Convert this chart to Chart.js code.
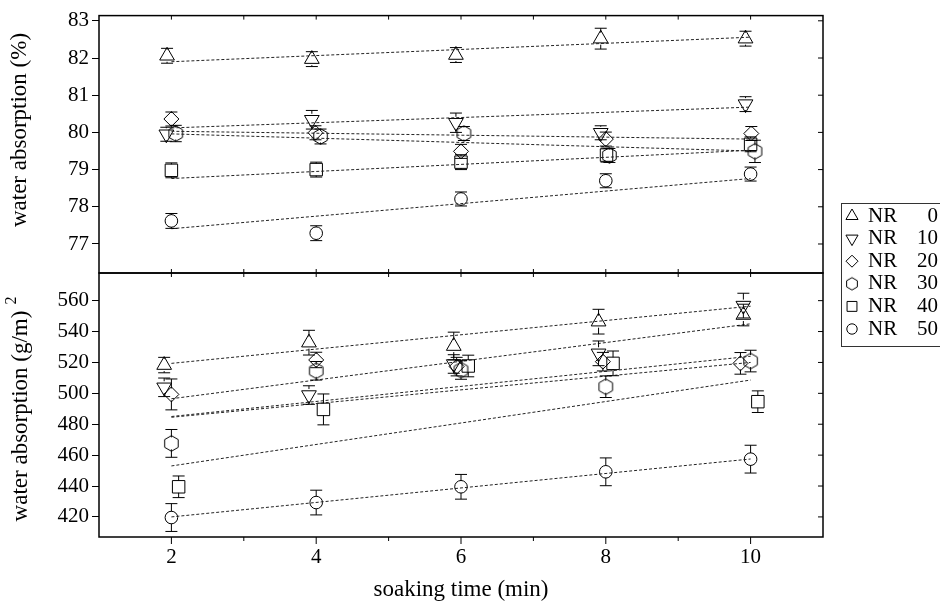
<!DOCTYPE html>
<html>
<head>
<meta charset="utf-8">
<title>water absorption vs soaking time</title>
<script src="https://cdn.jsdelivr.net/npm/chart.js@4.4.1/dist/chart.umd.min.js"></script>
<style>
  html, body { margin: 0; padding: 0; background: #fff; }
  #wrap { position: relative; width: 940px; height: 601px; }
  #wrap canvas { position: absolute; left: 0; top: 0; }
</style>
</head>
<body>
<div id="wrap">
  <canvas id="pctChart" width="940" height="601"></canvas>
  <canvas id="gsmChart" width="940" height="601"></canvas>
</div>
<script>
// NR content of each series
const nrLevels = [0, 10, 20, 30, 40, 50];

// upper panel: water absorption (%)
// soaking time of every point (the plot shifts some series sideways a little)
const pctTime = [
  [1.94, 3.94, 5.93, 7.93, 9.93],
  [1.93, 3.94, 5.93, 7.93, 9.93],
  [2.00, 3.99, 6.00, 8.00, 10.01],
  [2.06, 4.06, 6.04, 8.05, 10.06],
  [2.00, 4.00, 6.00, 8.01, 10.00],
  [2.00, 4.00, 6.00, 8.00, 10.00]
];
const pctValue = [
  [82.06, 81.97, 82.08, 82.52, 82.52],
  [79.95, 80.34, 80.26, 79.99, 80.76],
  [80.36, 79.99, 79.49, 79.82, 79.97],
  [79.97, 79.89, 79.97, 79.38, 79.49],
  [78.98, 79.00, 79.20, 79.39, 79.68],
  [77.62, 77.29, 78.21, 78.70, 78.88]
];
const pctError = [
  [0.20, 0.20, 0.20, 0.28, 0.20],
  [0.15, 0.25, 0.26, 0.15, 0.20],
  [0.10, 0.10, 0.10, 0.10, 0.10],
  [0.22, 0.20, 0.18, 0.10, 0.30],
  [0.20, 0.20, 0.20, 0.15, 0.20],
  [0.20, 0.20, 0.10, 0.10, 0.10]
];
// dashed fit lines: value at 2 min and at 10 min
const pctFitStart = [81.90, 80.12, 80.03, 79.96, 78.76, 77.41];
const pctFitEnd = [82.56, 80.68, 79.82, 79.50, 79.52, 78.76];

// lower panel: water absorption (g/m2)
const gsmTime = [
  [1.90, 3.90, 5.90, 7.90, 9.90],
  [1.90, 3.90, 5.90, 7.90, 9.90],
  [2.00, 4.00, 5.94, 7.96, 9.86],
  [2.00, 4.00, 6.00, 8.00, 10.00],
  [2.10, 4.10, 6.10, 8.10, 10.10],
  [2.00, 4.00, 6.00, 8.00, 10.00]
];
const gsmValue = [
  [518.3, 532.8, 530.6, 546.4, 550.7],
  [503.9, 498.9, 519.0, 525.9, 556.8],
  [499.3, 521.6, 517.3, 520.5, 519.4],
  [467.6, 514.6, 515.1, 504.3, 520.9],
  [439.5, 489.6, 517.7, 519.4, 494.6],
  [419.6, 429.3, 439.5, 449.2, 457.4]
];
const gsmError = [
  [5, 8, 9, 8, 7],
  [6, 6, 6, 8, 8],
  [10, 5, 6, 6, 7],
  [9, 6, 6, 7, 7],
  [7, 10, 7, 8, 7],
  [9, 8, 8, 9, 9]
];
const gsmFitStart = [519.4, 496.5, 485.0, 484.5, 453.0, 420.0];
const gsmFitEnd = [556.4, 545.0, 524.0, 520.0, 508.6, 457.5];

const fitTime = [2, 10];
const timeTicks = [2, 4, 6, 8, 10];
const pctTicks = [77, 78, 79, 80, 81, 82, 83];
const gsmTicks = [420, 440, 460, 480, 500, 520, 540, 560];

const serif = "'Liberation Serif', 'Times New Roman', serif";
Chart.defaults.font.family = serif;
Chart.defaults.color = '#000';

// hexagon marker (no built-in point style for it)
function hexagon(r) {
  const c = document.createElement('canvas');
  const s = Math.ceil(r * 2 + 3);
  c.width = s; c.height = s;
  const g = c.getContext('2d');
  g.strokeStyle = '#000';
  g.lineWidth = 1;
  g.beginPath();
  for (let k = 0; k < 6; k++) {
    const a = -Math.PI / 2 + k * Math.PI / 3;
    const px = s / 2 + r * Math.cos(a), py = s / 2 + r * Math.sin(a);
    if (k === 0) g.moveTo(px, py); else g.lineTo(px, py);
  }
  g.closePath();
  g.stroke();
  return c;
}

const shapes = ['triangle', 'triangle', 'rectRot', hexagon(7.8), 'rect', 'circle'];
const legendShapes = ['triangle', 'triangle', 'rectRot', hexagon(6.2), 'rect', 'circle'];
const turns = [0, 180, 0, 0, 0, 0];
const sizes = [8.5, 8.5, 7.5, 8, 8.8, 6.3];
const legendSizes = [7, 7, 6, 6, 7, 5.2];

function panelDatasets(time, value, error, fitStart, fitEnd) {
  const sets = [];
  nrLevels.forEach((nr, i) => {
    const ends = [fitStart[i], fitEnd[i]];
    sets.push({
      type: 'line',
      label: 'fit NR ' + nr,
      data: fitTime.map((t, k) => ({x: t, y: ends[k]})),
      borderColor: '#222',
      borderWidth: 1,
      borderDash: [3, 2],
      pointRadius: 0,
      fill: false
    });
  });
  nrLevels.forEach((nr, i) => {
    sets.push({
      type: 'scatter',
      label: 'NR ' + nr,
      data: time[i].map((t, k) => ({x: t, y: value[i][k]})),
      errors: error[i],
      pointStyle: shapes[i],
      rotation: turns[i],
      pointRadius: sizes[i],
      borderColor: '#000',
      borderWidth: 1,
      backgroundColor: 'rgba(0,0,0,0)'
    });
  });
  return sets;
}

// frame of each panel and the small inward ticks
const framePlugin = {
  id: 'frame',
  afterDraw(chart, args, opts) {
    const {ctx, chartArea: a} = chart;
    const x = chart.scales.x, y = chart.scales.y;
    ctx.save();
    ctx.strokeStyle = '#000';
    ctx.lineWidth = 1.5;
    ctx.strokeRect(a.left, a.top, a.right - a.left, a.bottom - a.top);
    ctx.lineWidth = 1;
    ctx.beginPath();
    for (let t = 2; t <= 10; t++) {
      const px = x.getPixelForValue(t);
      ctx.moveTo(px, a.top); ctx.lineTo(px, a.top + 4);
      if (opts.outerBottom) {
        ctx.moveTo(px, a.bottom); ctx.lineTo(px, a.bottom + (t % 2 === 0 ? 7 : 4));
      } else {
        ctx.moveTo(px, a.bottom); ctx.lineTo(px, a.bottom - 4);
      }
    }
    y.ticks.forEach(t => {
      const py = y.getPixelForValue(t.value);
      ctx.moveTo(a.right, py); ctx.lineTo(a.right - 5, py);
    });
    ctx.stroke();
    ctx.restore();
  }
};

// vertical error bars with caps
const errorBars = {
  id: 'errorBars',
  afterDatasetsDraw(chart) {
    const {ctx} = chart;
    const y = chart.scales.y;
    ctx.save();
    ctx.strokeStyle = '#000';
    ctx.lineWidth = 1;
    chart.data.datasets.forEach((ds, i) => {
      if (!ds.errors) return;
      chart.getDatasetMeta(i).data.forEach((pt, k) => {
        const v = ds.data[k].y, e = ds.errors[k];
        const top = Math.min(y.getPixelForValue(v + e), pt.y - 7);
        const bot = Math.max(y.getPixelForValue(v - e), pt.y + 7);
        ctx.beginPath();
        ctx.moveTo(pt.x, pt.y - 6); ctx.lineTo(pt.x, top);
        ctx.moveTo(pt.x - 6, top); ctx.lineTo(pt.x + 6, top);
        ctx.moveTo(pt.x, pt.y + 6); ctx.lineTo(pt.x, bot);
        ctx.moveTo(pt.x - 6, bot); ctx.lineTo(pt.x + 6, bot);
        ctx.stroke();
      });
    });
    ctx.restore();
  }
};

// rotated y-axis title, centred at (cx, cy); optional raised superscript after it
function sideTitle(ctx, text, sup, cx, cy) {
  ctx.save();
  ctx.translate(cx, cy);
  ctx.rotate(-Math.PI / 2);
  ctx.fillStyle = '#000';
  ctx.textBaseline = 'middle';
  ctx.font = '23px ' + serif;
  const w = ctx.measureText(text).width;
  ctx.textAlign = 'left';
  ctx.fillText(text, -w / 2, 0);
  if (sup) {
    ctx.font = '16px ' + serif;
    ctx.fillText(sup, w / 2 + 6, -9);
  }
  ctx.restore();
}

const pctTitle = {
  id: 'pctTitle',
  afterDraw(chart) { sideTitle(chart.ctx, 'water absorption (%)', '', 20, 130); }
};
const gsmTitle = {
  id: 'gsmTitle',
  afterDraw(chart) { sideTitle(chart.ctx, 'water absorption (g/m)', '2', 21, 416); }
};

// boxed legend at the right edge
const legendBox = {
  id: 'legendBox',
  afterDraw(chart) {
    const ctx = chart.ctx;
    ctx.save();
    ctx.strokeStyle = '#333';
    ctx.lineWidth = 1;
    ctx.strokeRect(841.5, 203.5, 130, 143);
    nrLevels.forEach((nr, i) => {
      const cy = 216 + i * 22.6;
      ctx.strokeStyle = '#000';
      ctx.fillStyle = 'rgba(0,0,0,0)';
      Chart.helpers.drawPoint(ctx, {
        pointStyle: legendShapes[i], rotation: turns[i], radius: legendSizes[i], borderWidth: 1
      }, 852, cy);
      ctx.fillStyle = '#000';
      ctx.font = '21px ' + serif;
      ctx.textBaseline = 'middle';
      ctx.textAlign = 'left';
      ctx.fillText('NR', 868, cy);
      ctx.textAlign = 'right';
      ctx.fillText(String(nr), 938, cy);
    });
    ctx.restore();
  }
};

const tickFont = {size: 21};

const pctChart = new Chart(document.getElementById('pctChart'), {
  type: 'scatter',
  data: {datasets: panelDatasets(pctTime, pctValue, pctError, pctFitStart, pctFitEnd)},
  options: {
    responsive: false,
    animation: false,
    layout: {padding: {left: 0, top: 11, right: 117, bottom: 328}},
    plugins: {legend: {display: false}, tooltip: {enabled: false}, frame: {outerBottom: false}},
    scales: {
      x: {type: 'linear', min: 1, max: 11, display: false},
      y: {
        type: 'linear', min: 76.22, max: 83.14,
        afterBuildTicks: s => { s.ticks = pctTicks.map(v => ({value: v})); },
        afterFit: s => { s.width = 99; },
        ticks: {font: tickFont, padding: 3},
        grid: {drawOnChartArea: false, tickLength: 7, tickColor: '#000'},
        border: {display: false}
      }
    }
  },
  plugins: [framePlugin, errorBars, pctTitle]
});

const gsmChart = new Chart(document.getElementById('gsmChart'), {
  type: 'scatter',
  data: {datasets: panelDatasets(gsmTime, gsmValue, gsmError, gsmFitStart, gsmFitEnd)},
  options: {
    responsive: false,
    animation: false,
    layout: {padding: {left: 0, top: 273, right: 117, bottom: 0}},
    plugins: {legend: {display: false}, tooltip: {enabled: false}, frame: {outerBottom: true}},
    scales: {
      x: {
        type: 'linear', min: 1, max: 11,
        afterBuildTicks: s => { s.ticks = timeTicks.map(v => ({value: v})); },
        afterFit: s => { s.height = 64; },
        ticks: {font: tickFont, padding: 2, maxRotation: 0, autoSkip: false},
        grid: {drawOnChartArea: false, tickLength: 6, tickColor: 'rgba(0,0,0,0)'},
        border: {display: false},
        title: {display: true, text: 'soaking time (min)', font: {size: 23, lineHeight: 1}, padding: {top: 0, bottom: 0}}
      },
      y: {
        type: 'linear', min: 407, max: 577.9,
        afterBuildTicks: s => { s.ticks = gsmTicks.map(v => ({value: v})); },
        afterFit: s => { s.width = 99; },
        ticks: {font: tickFont, padding: 3},
        grid: {drawOnChartArea: false, tickLength: 7, tickColor: '#000'},
        border: {display: false}
      }
    }
  },
  plugins: [framePlugin, errorBars, gsmTitle, legendBox]
});
</script>
</body>
</html>
